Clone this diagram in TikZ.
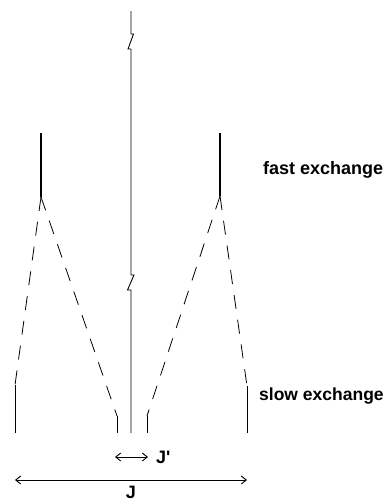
\documentclass[tikz,border=0pt]{standalone}
\usepackage{fontspec}
\setmainfont{Liberation Sans}
\usetikzlibrary{arrows.meta}
\begin{document}
\begin{tikzpicture}[x=1pt,y=-1pt,
  line/.style={line width=0.9pt,black},
  fastline/.style={line width=1.2pt,black},
  dashline/.style={line width=0.8pt,black,dash pattern=on 14pt off 11pt},
  dimarrow/.style={line width=0.9pt,{Straight Barb[length=5pt,width=8pt]}-{Straight Barb[length=5pt,width=8pt]}},
  lbl/.style={font=\bfseries\fontsize{18}{20}\selectfont,inner sep=0pt}]
\useasboundingbox (0,0) rectangle (390,501);

% central line with two break marks
\coordinate (c0) at (131,11);
\coordinate (c1) at (131,34);
\coordinate (c2) at (131,51);
\coordinate (c3) at (131,275);
\coordinate (c4) at (131,292);
\coordinate (c5) at (131,433);
\draw[line] (c0) -- (c1) -- ++(2.5,0) -- ++(-5.5,15) -- ++(3,0) -- (c2) -- (c3)
  -- ++(3,0) -- ++(-6.5,15) -- ++(3.5,0) -- (c4) -- (c5);

% fast exchange lines
\coordinate (fl1) at (41,133);
\coordinate (fl2) at (41,197);
\coordinate (fr1) at (220,133);
\coordinate (fr2) at (220,196);
\draw[fastline] (fl1) -- (fl2);
\draw[fastline] (fr1) -- (fr2);

% slow exchange lines
\coordinate (so1) at (15,385);
\coordinate (so2) at (15,433);
\coordinate (si1) at (117,416);
\coordinate (si2) at (117,433);
\coordinate (ti1) at (147,416);
\coordinate (ti2) at (147,433);
\coordinate (to1) at (247,386);
\coordinate (to2) at (247,433);
\draw[line] (so1) -- (so2);
\draw[line] (si1) -- (si2);
\draw[line] (ti1) -- (ti2);
\draw[line] (to1) -- (to2);

% dashed correlation lines
\draw[dashline] (fl2) -- (so1);
\draw[dashline] (fl2) -- (si1);
\draw[dashline] (fr2) -- (to1);
\draw[dashline] (fr2) -- (ti1);

% labels
\node[lbl,anchor=west] (fast) at (263,170) {fast exchange};
\node[lbl,anchor=west,font=\bfseries\fontsize{17.5}{20}\selectfont] (slow) at (259,396) {slow exchange};

% coupling constants
\coordinate (jp1) at (115,457);
\coordinate (jp2) at (148,457);
\draw[dimarrow] (jp1) -- (jp2);
\node[lbl,anchor=west] (jpl) at (156,457) {J\textquotesingle};
\coordinate (j1) at (15,480);
\coordinate (j2) at (247,480);
\draw[dimarrow] (j1) -- (j2);
\node[lbl] (jl) at (131,492) {J};
\end{tikzpicture}
\end{document}
